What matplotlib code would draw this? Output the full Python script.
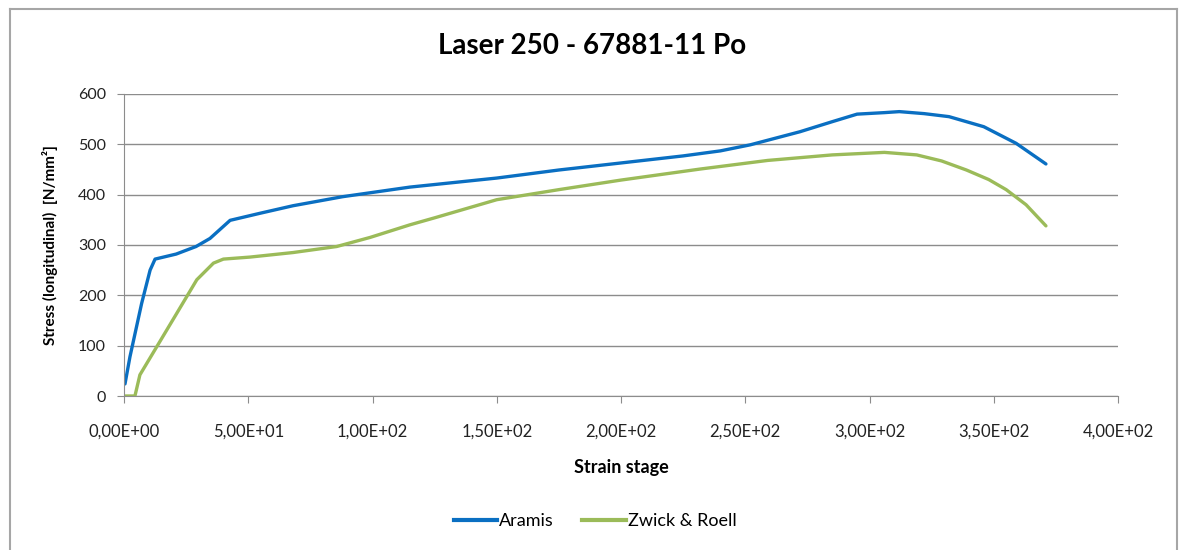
import matplotlib.pyplot as plt
from matplotlib.ticker import FuncFormatter, MultipleLocator
from matplotlib.lines import Line2D

plt.rcParams['font.family'] = ['Lato', 'DejaVu Sans']

# values
aramis_x = [0.4, 2.4, 7.1, 10.5, 12.5, 21, 29, 34.6, 42.7, 54.7, 68, 88, 115,
            150, 175, 200, 225, 240, 252, 272, 285, 295, 306, 312, 322, 332,
            346, 359, 371]
aramis_y = [24, 78, 184, 250, 272, 282, 297, 313, 349, 363, 378, 396, 415,
            433, 449, 463, 477, 487, 499, 525, 545, 560, 563, 565, 561, 555,
            535, 502, 461]

zwick_x = [0.4, 4.4, 6.4, 13.2, 21.2, 29.3, 36, 40, 50.7, 68, 85.6, 99, 115,
           125, 150, 175, 200, 232, 259, 285, 306, 319, 329, 339, 348, 355,
           363, 371]
zwick_y = [0, 0, 42, 98, 164, 231, 264, 272, 276, 285, 297, 315, 340,
           354, 390, 410, 429, 451, 468, 479, 484, 479, 467, 449, 430, 410,
           380, 338]

title = "Laser 250 - 67881-11 Po"
series_names = ["Aramis", "Zwick & Roell"]
colors = ["#0a6fc2", "#9bbb59"]

fig = plt.figure(figsize=(11.84, 5.5), dpi=100)
ax = fig.add_axes([124 / 1184, 1 - 396 / 550, 994 / 1184, 302 / 550])

ax.plot(aramis_x, aramis_y, color=colors[0], lw=2.4, solid_capstyle='round')
ax.plot(zwick_x, zwick_y, color=colors[1], lw=2.4, solid_capstyle='round')

ax.set_xlim(0, 400)
ax.set_ylim(0, 600)
ax.xaxis.set_major_locator(MultipleLocator(50))
ax.yaxis.set_major_locator(MultipleLocator(100))


def sci_comma(v, pos):
    return f"{v:.2E}".replace(".", ",")


ax.xaxis.set_major_formatter(FuncFormatter(sci_comma))
ax.grid(axis='y', color='#8c8c8c', lw=1)
ax.set_axisbelow(True)
for s in ['top', 'right']:
    ax.spines[s].set_visible(False)
for s in ['left', 'bottom']:
    ax.spines[s].set_color('#8c8c8c')
ax.tick_params(colors='#8c8c8c', length=5, labelcolor='#222222')
ax.tick_params(axis='x', pad=15, labelsize=12)
ax.tick_params(axis='y', pad=8, labelsize=11.5)

ax.set_xlabel("Strain stage", fontsize=13, fontweight='bold', labelpad=14)
ax.set_ylabel("Stress (longitudinal)  [N/mm²]", fontsize=11, fontweight='bold',
              labelpad=14)
fig.text(592 / 1184, 1 - 46 / 550, title, ha='center', va='center',
         fontsize=20, fontweight='bold')

handles = [Line2D([], [], color=c, lw=3) for c in colors]
fig.legend(handles, series_names, loc='center', bbox_to_anchor=(595 / 1184, 1 - 521 / 550),
           ncol=2, frameon=False, fontsize=13, handlelength=2.4,
           handletextpad=0.1, columnspacing=1.6)

# outer chart border
border = '#a6a6a6'
fig.add_artist(Line2D([10 / 1184, 10 / 1184], [0, 1 - 9 / 550], color=border, lw=1.5))
fig.add_artist(Line2D([10 / 1184, 1177 / 1184], [1 - 9 / 550, 1 - 9 / 550], color=border, lw=1.5))
fig.add_artist(Line2D([1177 / 1184, 1177 / 1184], [0, 1 - 9 / 550], color=border, lw=1.5))

fig.savefig("out.png", dpi=100)
